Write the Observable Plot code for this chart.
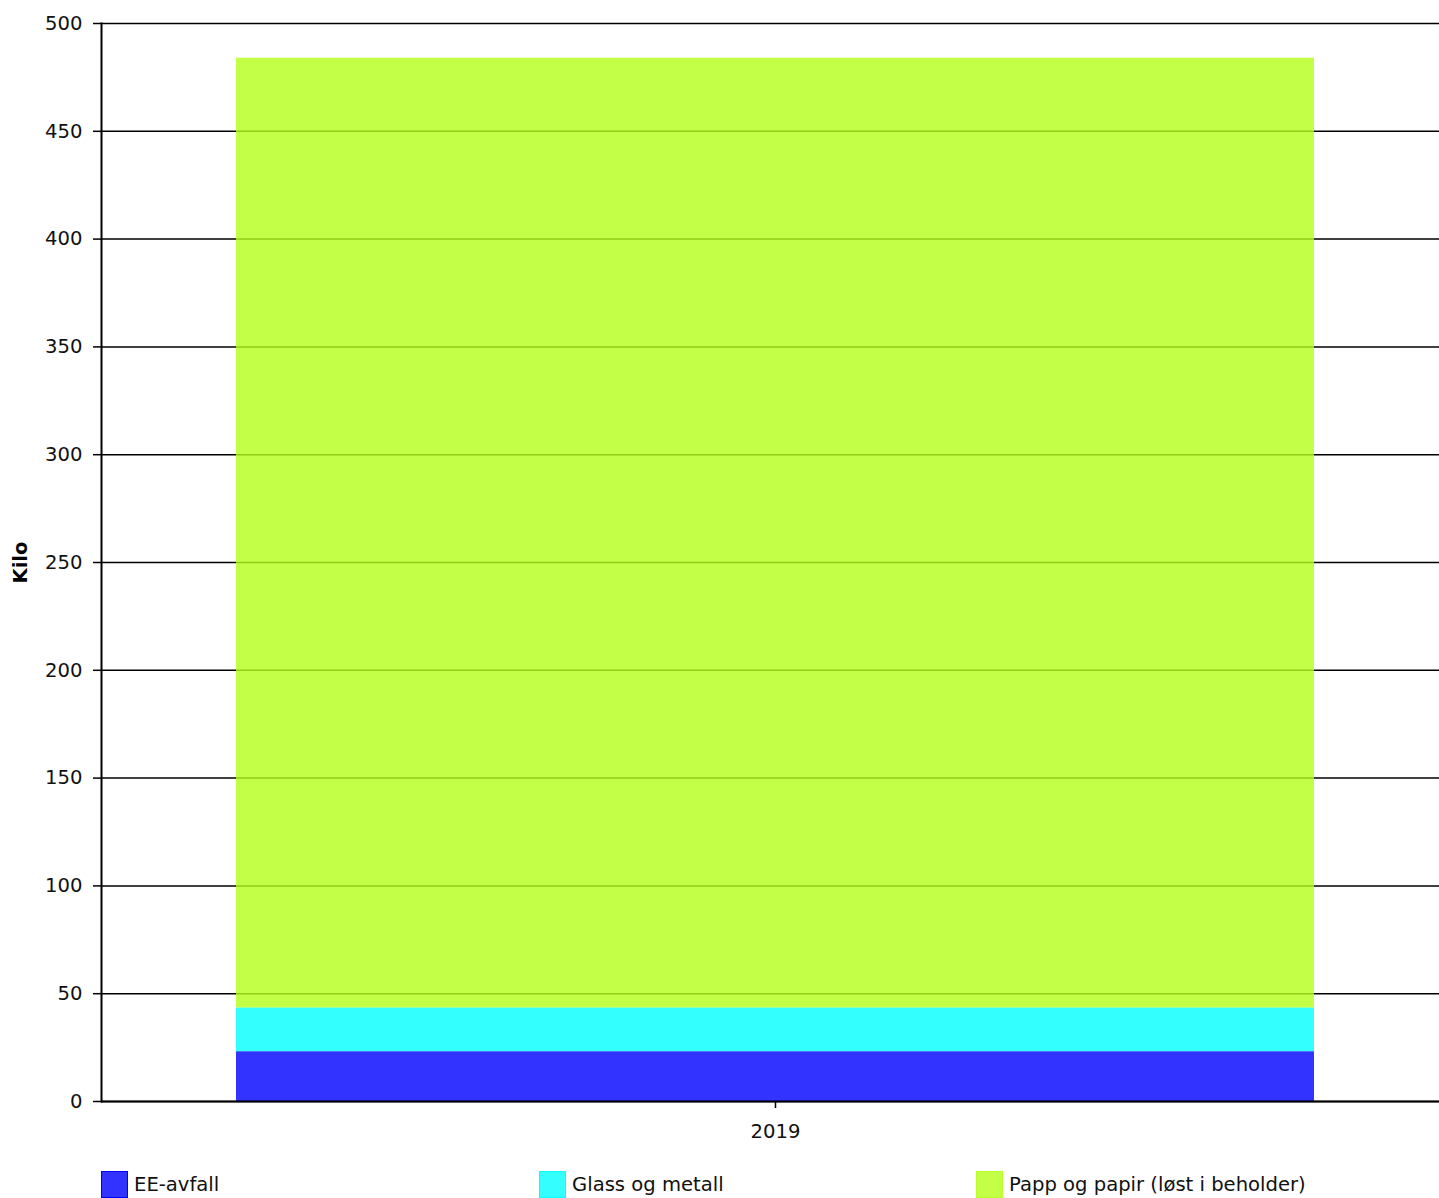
<!DOCTYPE html>
<html>
<head>
<meta charset="utf-8">
<script src="https://cdn.jsdelivr.net/npm/d3@7"></script>
<script src="https://cdn.jsdelivr.net/npm/@observablehq/plot@0.6"></script>
<style>
  html, body { margin: 0; padding: 0; background: #fff; overflow: hidden; }
  body { font-family: "DejaVu Sans", Verdana, sans-serif; }
  #legend { position: relative; height: 38px; width: 1439px; }
  .item { position: absolute; top: 11px; display: flex; align-items: center; font-size: 19.6px; color: #111; }
  .sw { width: 25px; height: 25px; margin-right: 6px; box-sizing: content-box; }
</style>
</head>
<body>
<div id="chart"></div>
<div id="legend"></div>
<script>
const years = ["2019"];
const categories = ["EE-avfall", "Glass og metall", "Papp og papir (løst i beholder)"];
const values = [23.1, 20.3, 440.5];
const colors = ["#0000ff", "#00ffff", "#b5ff19"];
const yTicks = [0, 50, 100, 150, 200, 250, 300, 350, 400, 450, 500];

const data = categories.map((c, i) => ({year: years[0], category: c, value: values[i]}));

const chart = Plot.plot({
  width: 1439,
  height: 1160,
  marginLeft: 101,
  marginRight: 0,
  marginTop: 23,
  marginBottom: 59,
  style: {fontFamily: "DejaVu Sans, Verdana, sans-serif", fontSize: "19.6px", color: "#111", background: "white", overflow: "visible"},
  x: {domain: years, range: [101, 1449], paddingInner: 0.2, paddingOuter: 0.1, label: null},
  y: {domain: [0, 500], label: null},
  color: {domain: categories, range: colors},
  marks: [
    Plot.ruleY(yTicks, {stroke: "black", strokeWidth: 1.5}),
    Plot.barY(data, Plot.stackY({x: "year", y: "value", fill: "category", fillOpacity: 0.8, order: categories})),
    Plot.axisY(yTicks, {tickSize: 8, tickPadding: 11, stroke: "black", strokeWidth: 1.5, fontSize: 19.6, label: null}),
    Plot.axisX({tickSize: 7, tickPadding: 16, stroke: "black", strokeWidth: 1.5, fontSize: 19.6, label: null}),
    Plot.frame({anchor: "left", stroke: "black", strokeWidth: 2}),
    Plot.ruleY([0], {stroke: "black", strokeWidth: 2}),
    Plot.text(["Kilo"], {frameAnchor: "left", textAnchor: "middle", dx: -81, rotate: -90, fontWeight: "bold", fontSize: 19.6, fill: "black"})
  ]
});
document.getElementById("chart").appendChild(chart);

const legend = document.getElementById("legend");
const lefts = [101, 539, 976];
categories.forEach((c, i) => {
  const item = document.createElement("div");
  item.className = "item";
  item.style.left = lefts[i] + "px";
  const sw = document.createElement("div");
  sw.className = "sw";
  const col = d3.color(colors[i]);
  col.opacity = 0.8;
  sw.style.background = col.formatRgb();
  sw.style.border = "1px solid " + (i === 0 ? colors[i] : col.formatRgb());
  const t = document.createElement("span");
  t.textContent = c;
  item.appendChild(sw);
  item.appendChild(t);
  legend.appendChild(item);
});
</script>
</body>
</html>
